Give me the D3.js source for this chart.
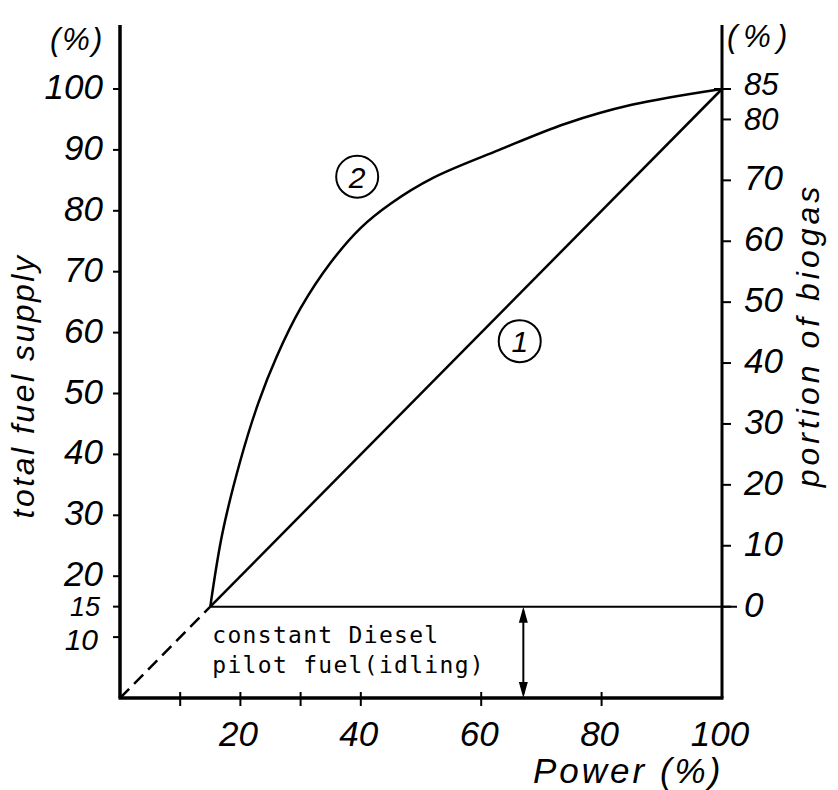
<!DOCTYPE html>
<html>
<head>
<meta charset="utf-8">
<script src="https://cdn.jsdelivr.net/npm/d3@7"></script>
<style>
  html, body { margin: 0; padding: 0; background: #fff; }
  svg { display: block; }
  .num { font-family: "Liberation Sans", Arial, sans-serif; font-style: italic; font-size: 35px; fill: #000; }
  .title { font-family: "Liberation Sans", Arial, sans-serif; font-style: italic; font-size: 32px; fill: #000; }
  .mono { font-family: "DejaVu Sans Mono", monospace; font-size: 23px; letter-spacing: 1.3px; fill: #000; }
</style>
</head>
<body>
<script>
// ---- data ----
const leftTicks = [10, 15, 20, 30, 40, 50, 60, 70, 80, 90, 100];
const rightTicks = [0, 10, 20, 30, 40, 50, 60, 70, 80, 85];
const bottomTicks = [10, 20, 30, 40, 60, 80];
const bottomLabels = [20, 40, 60, 80, 100];

const curve2Power = [15, 17, 20, 23, 26, 30, 35, 40, 45, 52, 63, 74, 85, 100];
const curve2Fuel  = [15, 27, 39, 48.5, 56, 64, 71.5, 77.2, 81.2, 85.4, 90.0, 94.3, 97.4, 100];
const line1Power = [15, 100];
const line1Fuel  = [15, 100];
const dashPower = [0, 15];
const dashFuel  = [0, 15];
const pilotFuel = 15;
const arrowPower = 67;
const annotationLines = ["constant Diesel", "pilot fuel(idling)"];

// ---- layout ----
const W = 838, H = 790;
const svg = d3.select("body").append("svg").attr("width", W).attr("height", H);

const x = d3.scaleLinear().domain([0, 100]).range([120, 722]);
const y = d3.scaleLinear().domain([0, 100]).range([698, 89]);
const y2 = d3.scaleLinear().domain([-pilotFuel, 100 - pilotFuel]).range([698, 89]);
const topY = 25;

// left axis ticks
svg.append("g").selectAll("line").data(leftTicks).join("line")
  .attr("x1", x(0) - 7).attr("x2", x(0)).attr("y1", d => y(d)).attr("y2", d => y(d))
  .attr("stroke", "#000").attr("stroke-width", 2);
svg.append("g").selectAll("text").data(leftTicks).join("text")
  .attr("class", "num").attr("text-anchor", "end")
  .attr("x", d => d === 15 ? x(0) - 20 : d === 10 ? x(0) - 22 : x(0) - 17)
  .attr("y", d => y(d) + (d === 15 ? 9 : d === 10 ? 13 : 10))
  .style("font-size", d => d === 15 ? "27px" : d === 10 ? "30px" : null)
  .text(d => d);

// right axis ticks
svg.append("g").selectAll("line").data(rightTicks).join("line")
  .attr("x1", d => d === 85 ? x(100) - 8 : x(100)).attr("x2", x(100) + 9)
  .attr("y1", d => y2(d)).attr("y2", d => y2(d))
  .attr("stroke", "#000").attr("stroke-width", 2);
svg.append("g").selectAll("text").data(rightTicks).join("text")
  .attr("class", "num")
  .attr("x", x(100) + 22).attr("y", d => y2(d) + (d === 85 ? 6 : d === 80 ? 11 : 10))
  .style("font-size", d => d === 85 || d === 80 ? "31px" : null)
  .text(d => d);

// bottom axis ticks
svg.append("g").selectAll("line").data(bottomTicks).join("line")
  .attr("x1", d => x(d)).attr("x2", d => x(d))
  .attr("y1", y(0) - 6).attr("y2", y(0) + 8)
  .attr("stroke", "#000").attr("stroke-width", 2);
svg.append("g").selectAll("text").data(bottomLabels).join("text")
  .attr("class", "num").attr("text-anchor", "middle")
  .attr("x", d => x(d) - 2).attr("y", 746)
  .text(d => d);

// axis lines
svg.append("line").attr("x1", x(0)).attr("x2", x(0)).attr("y1", topY).attr("y2", y(0))
  .attr("stroke", "#000").attr("stroke-width", 3.5);
svg.append("line").attr("x1", x(0) - 1.5).attr("x2", x(100) + 1.5).attr("y1", y(0)).attr("y2", y(0))
  .attr("stroke", "#000").attr("stroke-width", 3.5);
svg.append("line").attr("x1", x(100)).attr("x2", x(100)).attr("y1", topY).attr("y2", y(0))
  .attr("stroke", "#000").attr("stroke-width", 3);

// pilot fuel horizontal line
svg.append("line").attr("x1", x(15)).attr("x2", x(100) + 15)
  .attr("y1", y(pilotFuel)).attr("y2", y(pilotFuel))
  .attr("stroke", "#000").attr("stroke-width", 2);

// lines
const lineGen = d3.line().x(d => x(d[0])).y(d => y(d[1]));
svg.append("path").datum(dashPower.map((p, i) => [p, dashFuel[i]]))
  .attr("d", lineGen).attr("fill", "none").attr("stroke", "#000")
  .attr("stroke-width", 2.5).attr("stroke-dasharray", "13,7");
svg.append("path").datum(line1Power.map((p, i) => [p, line1Fuel[i]]))
  .attr("d", lineGen).attr("fill", "none").attr("stroke", "#000").attr("stroke-width", 2.5);
svg.append("path").datum(curve2Power.map((p, i) => [p, curve2Fuel[i]]))
  .attr("d", d3.line().x(d => x(d[0])).y(d => y(d[1])).curve(d3.curveCatmullRom.alpha(0.5)))
  .attr("fill", "none").attr("stroke", "#000").attr("stroke-width", 2.5);

// circled labels
const circLabels = [{t: "2", px: 39.4, fy: 85.6}, {t: "1", px: 66.4, fy: 58.6}];
const cg = svg.append("g").selectAll("g").data(circLabels).join("g")
  .attr("transform", d => `translate(${x(d.px)},${y(d.fy)})`);
cg.append("circle").attr("r", 21).attr("fill", "#fff").attr("stroke", "#000").attr("stroke-width", 2);
cg.append("text").attr("class", "num").attr("text-anchor", "middle")
  .attr("y", 11).style("font-size", "30px").text(d => d.t);

// double arrow
const ax = x(arrowPower);
svg.append("line").attr("x1", ax).attr("x2", ax).attr("y1", y(pilotFuel) + 4).attr("y2", y(0) - 4)
  .attr("stroke", "#000").attr("stroke-width", 2);
svg.append("path")
  .attr("d", `M${ax},${y(pilotFuel)} l-4.5,16 l9,0 Z M${ax},${y(0)} l-4.5,-16 l9,0 Z`)
  .attr("fill", "#000");

// annotation
svg.append("g").selectAll("text").data(annotationLines).join("text")
  .attr("class", "mono")
  .attr("x", x(15) + 2).attr("y", (d, i) => y(pilotFuel) + 36 + i * 30)
  .text(d => d);

// units
svg.append("text").attr("class", "num").attr("x", 50).attr("y", 50)
  .style("font-size", "31px").style("letter-spacing", "2px").text("(%)");
svg.append("text").attr("class", "num").attr("x", 727).attr("y", 47)
  .style("font-size", "31px").style("letter-spacing", "6px").text("(%)");

// titles
svg.append("text").attr("class", "title").attr("text-anchor", "middle")
  .attr("transform", `translate(34,386) rotate(-90)`)
  .style("letter-spacing", "2.5px").text("total fuel supply");
svg.append("text").attr("class", "title").attr("text-anchor", "middle")
  .attr("transform", `translate(819,335) rotate(-90)`)
  .style("letter-spacing", "4px").text("portion of biogas");
svg.append("text").attr("class", "title").attr("x", 533).attr("y", 783)
  .style("font-size", "35px").style("letter-spacing", "3px").text("Power (%)");
</script>
</body>
</html>
